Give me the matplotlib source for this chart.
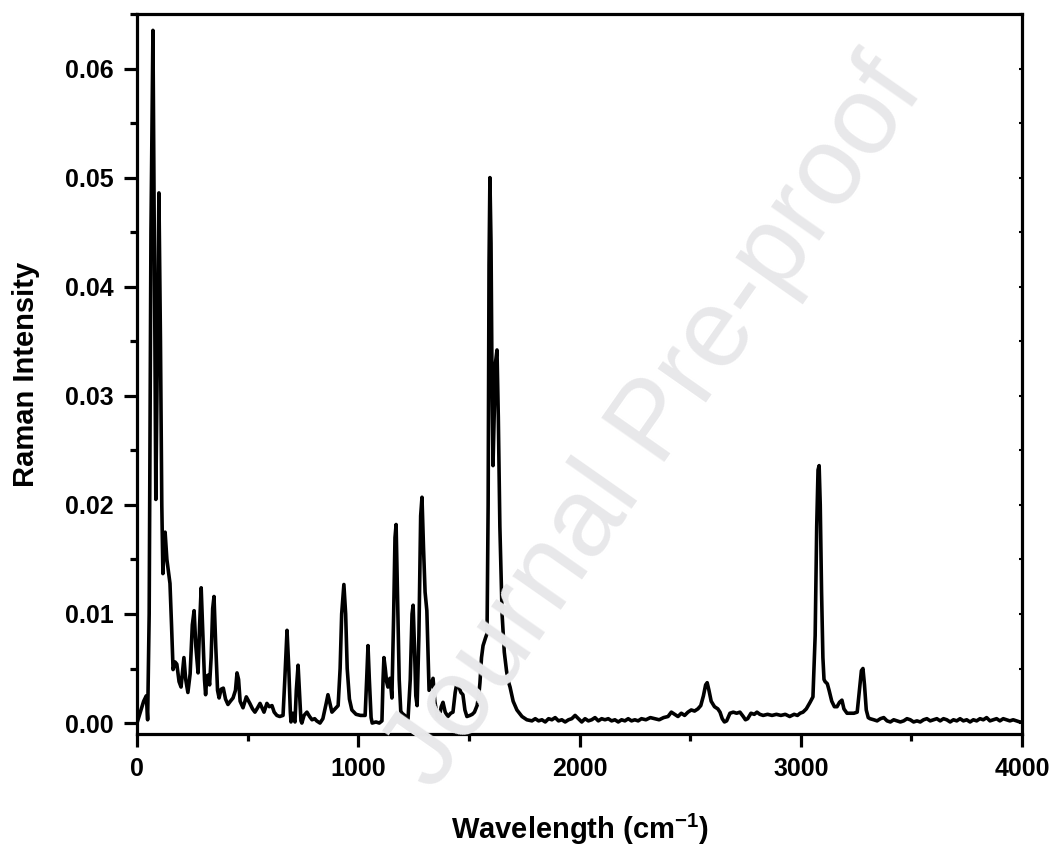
import matplotlib
matplotlib.use("Agg")
import matplotlib.pyplot as plt
from matplotlib.ticker import MultipleLocator, FormatStrFormatter

# Raman spectrum
wavenumber = [
    0, 15, 30, 42, 48, 55, 63, 72, 78, 85, 90, 99, 106, 112, 117, 122, 127, 135, 149, 156,
    163, 172, 180, 190, 199, 212, 220, 230, 240, 250, 258, 266, 276, 283, 290, 298, 305, 310,
    316, 322, 328, 335, 342, 348, 356, 364, 371, 380, 390, 400, 411, 422, 434, 445, 452, 459,
    466, 479, 494, 510, 522, 533, 545, 556, 565, 574, 587, 598, 610, 620, 632, 645, 660, 668,
    678, 686, 693, 696, 704, 710, 714, 720, 728, 735, 741, 745, 755, 768, 780, 791, 803, 812,
    827, 840, 855, 863, 872, 881, 895, 909, 918, 925, 935, 943, 950, 960, 971, 990, 1010, 1031,
    1038, 1044, 1050, 1058, 1063, 1080, 1095, 1107, 1112, 1116, 1122, 1128, 1134, 1143, 1148,
    1152, 1160, 1166, 1171, 1177, 1185, 1192, 1198, 1210, 1225, 1235, 1243, 1248, 1254, 1260,
    1266, 1274, 1282, 1288, 1295, 1302, 1310, 1316, 1320, 1328, 1338, 1346, 1358, 1365, 1375,
    1383, 1393, 1405, 1418, 1428, 1438, 1446, 1455, 1464, 1473, 1482, 1491, 1505, 1515, 1525,
    1537, 1545, 1550, 1557, 1564, 1575, 1582, 1587, 1591, 1595, 1600, 1605, 1609, 1614, 1620,
    1627, 1633, 1640, 1650, 1660, 1670, 1677, 1686, 1700, 1717, 1740, 1762,
    1785, 1800, 1815, 1830, 1845, 1860, 1875, 1890, 1905, 1920, 1935, 1950, 1965, 1980, 1995,
    2010, 2025, 2040, 2055, 2070, 2085, 2100, 2115, 2130, 2145, 2160, 2175, 2190, 2205, 2220,
    2235, 2250, 2265, 2280, 2300, 2320, 2340, 2360, 2380, 2400, 2415, 2430, 2445, 2460, 2475,
    2490, 2505, 2520, 2535, 2548, 2560, 2570, 2577, 2585, 2595, 2610, 2625, 2635, 2645, 2655,
    2665, 2680, 2695, 2710, 2725, 2740, 2750, 2760, 2775, 2790, 2802, 2815, 2830, 2850, 2870,
    2890, 2910, 2930, 2950, 2970, 2985, 2997, 3010, 3025, 3042, 3055, 3065, 3072, 3078, 3083,
    3088, 3094, 3100, 3105, 3110, 3120, 3128, 3140, 3152, 3164, 3175, 3186, 3195, 3209, 3225,
    3240, 3255, 3265, 3274, 3281, 3288, 3296, 3305, 3313,
    3330, 3345, 3360, 3375, 3390, 3405, 3420, 3435, 3450, 3465, 3480, 3495, 3510, 3525, 3540,
    3555, 3570, 3585, 3600, 3615, 3630, 3645, 3660, 3675, 3690, 3705, 3720, 3735, 3750, 3765,
    3780, 3795, 3810, 3825, 3840, 3855, 3870, 3885, 3900, 3915, 3930, 3945, 3960, 3975, 3990, 4000,
]

intensity = [
    0.0000, 0.0010, 0.0020, 0.0025, 0.0003, 0.0100, 0.0450, 0.0635, 0.0450, 0.0205, 0.0300, 0.0486,
    0.0350, 0.0200, 0.0137, 0.0160, 0.0175, 0.0150, 0.0128, 0.0090,
    0.0049, 0.0056, 0.0054, 0.0038, 0.0033, 0.0060, 0.0040, 0.0028, 0.0045, 0.0090, 0.0103, 0.0070,
    0.0046, 0.0090, 0.0124, 0.0080, 0.0040, 0.0026,
    0.0043, 0.0044, 0.0035, 0.0060, 0.0105, 0.0116, 0.0070, 0.0030, 0.0023, 0.0031, 0.0032, 0.0022,
    0.0017, 0.0020, 0.0023, 0.0030, 0.0046, 0.0040,
    0.0020, 0.0014, 0.0024, 0.0018, 0.0013, 0.0010, 0.0014, 0.0018, 0.0014, 0.0010, 0.0018, 0.0015,
    0.0016, 0.0010, 0.0007, 0.0006, 0.0007, 0.0040,
    0.0085, 0.0050, 0.0010, 0.0001, 0.0009, 0.0003, 0.0001, 0.0030, 0.0053, 0.0025, 0.0002, 0.0000,
    0.0007, 0.0010, 0.0006, 0.0003, 0.0004, 0.0002,
    0.0000, 0.0004, 0.0018, 0.0026, 0.0018, 0.0010, 0.0013, 0.0016, 0.0050, 0.0100, 0.0127, 0.0100,
    0.0050, 0.0022, 0.0012, 0.0008, 0.0007, 0.0007,
    0.0040, 0.0071, 0.0040, 0.0005, 0.0000, 0.0001, 0.0000, 0.0002, 0.0040, 0.0060, 0.0050, 0.0038,
    0.0033, 0.0041, 0.0032,
    0.0023, 0.0100, 0.0170, 0.0182, 0.0120, 0.0040, 0.0011, 0.0009, 0.0007, 0.0004, 0.0040, 0.0100,
    0.0108, 0.0070, 0.0025,
    0.0016, 0.0080, 0.0190, 0.0207, 0.0160, 0.0120, 0.0103, 0.0060, 0.0030, 0.0035, 0.0041, 0.0020,
    0.0005, 0.0004, 0.0015,
    0.0019, 0.0010, 0.0006, 0.0009, 0.0010, 0.0028, 0.0037, 0.0033, 0.0028, 0.0026, 0.0012, 0.0006,
    0.0007, 0.0008, 0.0010,
    0.0016, 0.0026, 0.0037, 0.0060, 0.0071, 0.0078, 0.0082, 0.0200, 0.0420, 0.0500, 0.0440, 0.0300,
    0.0236, 0.0280, 0.0330,
    0.0342, 0.0280, 0.0180, 0.0100, 0.0065, 0.0048, 0.0039, 0.0033, 0.0020, 0.0012, 0.0006, 0.0003,
    0.0002, 0.0004, 0.0002, 0.0003, 0.0001, 0.0004, 0.0003, 0.0005, 0.0002, 0.0003, 0.0001, 0.0003,
    0.0004, 0.0007, 0.0004,
    0.0001, 0.0004, 0.0002, 0.0003, 0.0005, 0.0002, 0.0004, 0.0003, 0.0004, 0.0002, 0.0003, 0.0001,
    0.0003, 0.0002, 0.0004,
    0.0002, 0.0003, 0.0002, 0.0004, 0.0003, 0.0005, 0.0004, 0.0003, 0.0005, 0.0006, 0.0010, 0.0008,
    0.0006, 0.0009, 0.0007,
    0.0010, 0.0012, 0.0011, 0.0013, 0.0016, 0.0025, 0.0035, 0.0037, 0.0030, 0.0020, 0.0015, 0.0013,
    0.0010, 0.0004, 0.0001,
    0.0002, 0.0009, 0.0010, 0.0009, 0.0010, 0.0006, 0.0003, 0.0004, 0.0009, 0.0008, 0.0010, 0.0008,
    0.0007, 0.0008, 0.0007,
    0.0008, 0.0007, 0.0008, 0.0006, 0.0008, 0.0007, 0.0009, 0.0010, 0.0013, 0.0019, 0.0024, 0.0080,
    0.0180, 0.0232, 0.0236,
    0.0200, 0.0120, 0.0060, 0.0040, 0.0038, 0.0036, 0.0030, 0.0020, 0.0015, 0.0015, 0.0019, 0.0021,
    0.0013, 0.0009, 0.0009,
    0.0009, 0.0010, 0.0030, 0.0048, 0.0050, 0.0035, 0.0012, 0.0005, 0.0004,
    0.0003, 0.0002, 0.0004, 0.0005, 0.0002, 0.0001, 0.0003, 0.0002, 0.0001, 0.0002, 0.0004, 0.0003,
    0.0001, 0.0002, 0.0001,
    0.0003, 0.0004, 0.0002, 0.0003, 0.0004, 0.0002, 0.0004, 0.0003, 0.0001, 0.0003, 0.0002, 0.0004,
    0.0002, 0.0003, 0.0001,
    0.0003, 0.0002, 0.0004, 0.0003, 0.0005, 0.0002, 0.0003, 0.0004, 0.0002, 0.0004, 0.0003, 0.0002,
    0.0003, 0.0002, 0.0001, 0.0001,
]

x_label = "Wavelength (cm$^{\\mathbf{-1}}$)"
y_label = "Raman Intensity"
watermark = "Journal Pre-proof"

plt.rcParams["font.family"] = ["Liberation Sans", "DejaVu Sans"]
plt.rcParams["font.weight"] = "bold"
plt.rcParams["mathtext.fontset"] = "custom"
plt.rcParams["mathtext.rm"] = "Liberation Sans:bold"
plt.rcParams["mathtext.bf"] = "Liberation Sans:bold"
plt.rcParams["mathtext.default"] = "bf"

fig = plt.figure(figsize=(10.58, 8.49), dpi=100)
ax = fig.add_axes([0.1295, 0.1355, 0.8365, 0.848])

fig.text(0.62, 0.50, watermark, rotation=55, ha="center", va="center",
         fontsize=80, color="#e8e8ea", fontweight="normal", zorder=0)
ax.set_facecolor("none")

ax.plot(wavenumber, intensity, color="black", lw=2.6, solid_joinstyle="round")

ax.set_xlim(0, 4000)
ax.set_ylim(-0.001, 0.065)
ax.xaxis.set_major_locator(MultipleLocator(1000))
ax.xaxis.set_minor_locator(MultipleLocator(500))
ax.yaxis.set_major_locator(MultipleLocator(0.01))
ax.yaxis.set_minor_locator(MultipleLocator(0.005))
ax.yaxis.set_major_formatter(FormatStrFormatter("%.2f"))

for s in ax.spines.values():
    s.set_linewidth(2.3)

ax.tick_params(axis="both", which="major", direction="out", length=9.5, width=2.3,
               labelsize=18, pad=7)
ax.tick_params(axis="both", which="minor", direction="out", length=5, width=2.3)
ax.tick_params(right=False, top=False, which="both")

# tiny inward marks on the right spine
ax2 = ax.twinx()
ax2.set_ylim(ax.get_ylim())
ax2.yaxis.set_major_locator(MultipleLocator(0.01))
ax2.yaxis.set_minor_locator(MultipleLocator(0.005))
ax2.tick_params(axis="y", which="both", direction="in", length=2, width=1.5, labelright=False)
ax2.set_facecolor("none")
for s in ax2.spines.values():
    s.set_visible(False)

ax.set_xlabel(x_label, fontsize=21, fontweight="bold", labelpad=22)
ax.set_ylabel(y_label, fontsize=21, fontweight="bold", labelpad=18)

for lab in ax.get_xticklabels() + ax.get_yticklabels():
    lab.set_fontweight("bold")

fig.savefig("out.png", dpi=100)
